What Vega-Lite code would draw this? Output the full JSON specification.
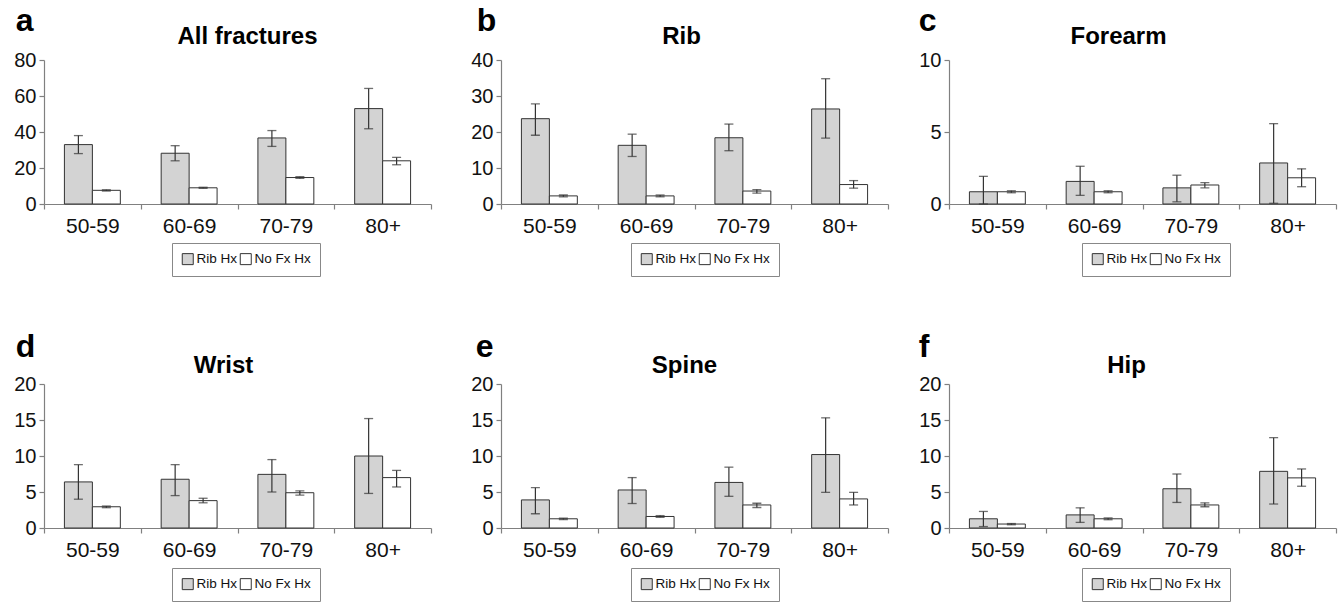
{
  "$schema": "https://vega.github.io/schema/vega-lite/v6.json",
  "padding": {"left": 13, "top": 5, "right": 5, "bottom": 0},
  "background": "white",
  "config": {
    "font": "Liberation Sans",
    "view": {"stroke": null},
    "axis": {"domainColor": "#808080", "tickColor": "#808080", "domainWidth": 1.2, "tickWidth": 1.2, "labelColor": "#111", "labelFontSize": 20, "tickSize": 5, "grid": false, "labelPadding": 3, "labelOverlap": false},
    "axisX": {"tickBand": "extent", "labelAngle": 0, "labelPadding": 6, "labelFontSize": 21},
    "title": {"color": "#000", "fontWeight": "bold"},
    "legend": {"labelFontSize": 13.5, "labelColor": "#111"}
  },
  "resolve": {"legend": {"fill": "independent"}, "scale": {"fill": "independent"}},
  "spacing": 54,
  "vconcat": [
    {
      "resolve": {"legend": {"fill": "independent"}, "scale": {"fill": "independent"}},
      "spacing": 38,
      "hconcat": [
        {
          "title": {"text": "a", "anchor": "start", "fontSize": 32, "offset": -13, "dx": 2},
          "resolve": {"legend": {"fill": "independent"}, "scale": {"fill": "independent"}},
          "vconcat": [{
            "title": {"text": "All fractures", "fontSize": 24, "frame": "group", "dx": 10, "offset": 1},
            "width": 387, "height": 144,
            "data": {"values": [
              {"age": "50-59", "group": "Rib Hx", "value": 33.0, "lo": 28.0, "hi": 38.0},
              {"age": "50-59", "group": "No Fx Hx", "value": 7.6, "lo": 7.2, "hi": 7.9},
              {"age": "60-69", "group": "Rib Hx", "value": 28.2, "lo": 24.0, "hi": 32.4},
              {"age": "60-69", "group": "No Fx Hx", "value": 9.0, "lo": 8.7, "hi": 9.3},
              {"age": "70-79", "group": "Rib Hx", "value": 36.7, "lo": 32.0, "hi": 40.8},
              {"age": "70-79", "group": "No Fx Hx", "value": 14.7, "lo": 14.2, "hi": 15.2},
              {"age": "80+", "group": "Rib Hx", "value": 53.0, "lo": 41.8, "hi": 64.2},
              {"age": "80+", "group": "No Fx Hx", "value": 24.0, "lo": 21.8, "hi": 25.9}
            ]},
            "encoding": {
              "x": {"field": "age", "type": "nominal", "sort": ["50-59", "60-69", "70-79", "80+"], "scale": {"paddingInner": 0, "paddingOuter": 0}, "axis": {"title": null}},
              "xOffset": {"field": "group", "type": "nominal", "sort": ["Rib Hx", "No Fx Hx"], "scale": {"paddingInner": 0, "paddingOuter": 0.73}}
            },
            "layer": [
              {"mark": {"type": "bar", "stroke": "#333", "strokeWidth": 1},
               "encoding": {
                 "y": {"field": "value", "type": "quantitative", "title": null, "scale": {"domain": [0, 80]}, "axis": {"values": [0, 20, 40, 60, 80]}},
                 "fill": {"field": "group", "type": "nominal", "scale": {"domain": ["Rib Hx", "No Fx Hx"], "range": ["#d3d3d3", "#ffffff"]},
                          "legend": {"title": null, "orient": "none", "legendX": 128, "legendY": 183, "direction": "horizontal", "symbolType": "square", "symbolSize": 121, "symbolStrokeColor": "#333", "symbolStrokeWidth": 1, "labelOffset": 2, "columnPadding": 0, "padding": 9, "strokeColor": "#888"}}
               }},
              {"mark": {"type": "rule", "color": "#333", "strokeWidth": 1.2},
               "encoding": {"y": {"field": "lo", "type": "quantitative", "title": null, "scale": {"domain": [0, 80]}, "axis": {"values": [0, 20, 40, 60, 80]}}, "y2": {"field": "hi"}}},
              {"mark": {"type": "tick", "color": "#333", "size": 9, "thickness": 1.3},
               "encoding": {"y": {"field": "lo", "type": "quantitative", "title": null, "scale": {"domain": [0, 80]}, "axis": {"values": [0, 20, 40, 60, 80]}}}},
              {"mark": {"type": "tick", "color": "#333", "size": 9, "thickness": 1.3},
               "encoding": {"y": {"field": "hi", "type": "quantitative", "title": null, "scale": {"domain": [0, 80]}, "axis": {"values": [0, 20, 40, 60, 80]}}}}
            ]
          }]
        },
        {
          "resolve": {"legend": {"fill": "independent"}, "scale": {"fill": "independent"}},
          "spacing": 29,
          "hconcat": [
            {
              "title": {"text": "b", "anchor": "start", "fontSize": 32, "offset": -13, "dx": 6},
              "resolve": {"legend": {"fill": "independent"}, "scale": {"fill": "independent"}},
              "vconcat": [{
                "title": {"text": "Rib", "fontSize": 24, "frame": "group", "dx": -13, "offset": 1},
                "width": 387, "height": 144,
                "data": {"values": [
                  {"age": "50-59", "group": "Rib Hx", "value": 23.7, "lo": 19.1, "hi": 27.8},
                  {"age": "50-59", "group": "No Fx Hx", "value": 2.25, "lo": 2.0, "hi": 2.5},
                  {"age": "60-69", "group": "Rib Hx", "value": 16.3, "lo": 13.2, "hi": 19.4},
                  {"age": "60-69", "group": "No Fx Hx", "value": 2.25, "lo": 2.0, "hi": 2.5},
                  {"age": "70-79", "group": "Rib Hx", "value": 18.4, "lo": 14.8, "hi": 22.2},
                  {"age": "70-79", "group": "No Fx Hx", "value": 3.6, "lo": 3.0, "hi": 4.0},
                  {"age": "80+", "group": "Rib Hx", "value": 26.4, "lo": 18.3, "hi": 34.8},
                  {"age": "80+", "group": "No Fx Hx", "value": 5.4, "lo": 4.4, "hi": 6.5}
                ]},
                "encoding": {
                  "x": {"field": "age", "type": "nominal", "sort": ["50-59", "60-69", "70-79", "80+"], "scale": {"paddingInner": 0, "paddingOuter": 0}, "axis": {"title": null}},
                  "xOffset": {"field": "group", "type": "nominal", "sort": ["Rib Hx", "No Fx Hx"], "scale": {"paddingInner": 0, "paddingOuter": 0.73}}
                },
                "layer": [
                  {"mark": {"type": "bar", "stroke": "#333", "strokeWidth": 1},
                   "encoding": {
                     "y": {"field": "value", "type": "quantitative", "title": null, "scale": {"domain": [0, 40]}, "axis": {"values": [0, 10, 20, 30, 40]}},
                     "fill": {"field": "group", "type": "nominal", "scale": {"domain": ["Rib Hx", "No Fx Hx"], "range": ["#d3d3d3", "#ffffff"]},
                              "legend": {"title": null, "orient": "none", "legendX": 130, "legendY": 183, "direction": "horizontal", "symbolType": "square", "symbolSize": 121, "symbolStrokeColor": "#333", "symbolStrokeWidth": 1, "labelOffset": 2, "columnPadding": 0, "padding": 9, "strokeColor": "#888"}}
                   }},
                  {"mark": {"type": "rule", "color": "#333", "strokeWidth": 1.2},
                   "encoding": {"y": {"field": "lo", "type": "quantitative", "title": null, "scale": {"domain": [0, 40]}, "axis": {"values": [0, 10, 20, 30, 40]}}, "y2": {"field": "hi"}}},
                  {"mark": {"type": "tick", "color": "#333", "size": 9, "thickness": 1.3},
                   "encoding": {"y": {"field": "lo", "type": "quantitative", "title": null, "scale": {"domain": [0, 40]}, "axis": {"values": [0, 10, 20, 30, 40]}}}},
                  {"mark": {"type": "tick", "color": "#333", "size": 9, "thickness": 1.3},
                   "encoding": {"y": {"field": "hi", "type": "quantitative", "title": null, "scale": {"domain": [0, 40]}, "axis": {"values": [0, 10, 20, 30, 40]}}}}
                ]
              }]
            },
            {
              "title": {"text": "c", "anchor": "start", "fontSize": 32, "offset": -13, "dx": 0},
              "resolve": {"legend": {"fill": "independent"}, "scale": {"fill": "independent"}},
              "vconcat": [{
                "title": {"text": "Forearm", "fontSize": 24, "frame": "group", "dx": -24, "offset": 1},
                "width": 387, "height": 144,
                "data": {"values": [
                  {"age": "50-59", "group": "Rib Hx", "value": 0.85, "lo": 0.0, "hi": 1.92},
                  {"age": "50-59", "group": "No Fx Hx", "value": 0.85, "lo": 0.78, "hi": 0.92},
                  {"age": "60-69", "group": "Rib Hx", "value": 1.57, "lo": 0.6, "hi": 2.62},
                  {"age": "60-69", "group": "No Fx Hx", "value": 0.85, "lo": 0.78, "hi": 0.92},
                  {"age": "70-79", "group": "Rib Hx", "value": 1.12, "lo": 0.15, "hi": 2.0},
                  {"age": "70-79", "group": "No Fx Hx", "value": 1.32, "lo": 1.12, "hi": 1.48},
                  {"age": "80+", "group": "Rib Hx", "value": 2.85, "lo": 0.05, "hi": 5.58},
                  {"age": "80+", "group": "No Fx Hx", "value": 1.82, "lo": 1.2, "hi": 2.44}
                ]},
                "encoding": {
                  "x": {"field": "age", "type": "nominal", "sort": ["50-59", "60-69", "70-79", "80+"], "scale": {"paddingInner": 0, "paddingOuter": 0}, "axis": {"title": null}},
                  "xOffset": {"field": "group", "type": "nominal", "sort": ["Rib Hx", "No Fx Hx"], "scale": {"paddingInner": 0, "paddingOuter": 0.73}}
                },
                "layer": [
                  {"mark": {"type": "bar", "stroke": "#333", "strokeWidth": 1},
                   "encoding": {
                     "y": {"field": "value", "type": "quantitative", "title": null, "scale": {"domain": [0, 10]}, "axis": {"values": [0, 5, 10]}},
                     "fill": {"field": "group", "type": "nominal", "scale": {"domain": ["Rib Hx", "No Fx Hx"], "range": ["#d3d3d3", "#ffffff"]},
                              "legend": {"title": null, "orient": "none", "legendX": 133, "legendY": 183, "direction": "horizontal", "symbolType": "square", "symbolSize": 121, "symbolStrokeColor": "#333", "symbolStrokeWidth": 1, "labelOffset": 2, "columnPadding": 0, "padding": 9, "strokeColor": "#888"}}
                   }},
                  {"mark": {"type": "rule", "color": "#333", "strokeWidth": 1.2},
                   "encoding": {"y": {"field": "lo", "type": "quantitative", "title": null, "scale": {"domain": [0, 10]}, "axis": {"values": [0, 5, 10]}}, "y2": {"field": "hi"}}},
                  {"mark": {"type": "tick", "color": "#333", "size": 9, "thickness": 1.3},
                   "encoding": {"y": {"field": "lo", "type": "quantitative", "title": null, "scale": {"domain": [0, 10]}, "axis": {"values": [0, 5, 10]}}}},
                  {"mark": {"type": "tick", "color": "#333", "size": 9, "thickness": 1.3},
                   "encoding": {"y": {"field": "hi", "type": "quantitative", "title": null, "scale": {"domain": [0, 10]}, "axis": {"values": [0, 5, 10]}}}}
                ]
              }]
            }
          ]
        }
      ]
    },
    {
      "resolve": {"legend": {"fill": "independent"}, "scale": {"fill": "independent"}},
      "spacing": 38,
      "hconcat": [
        {
          "title": {"text": "d", "anchor": "start", "fontSize": 32, "offset": -10, "dx": 2},
          "resolve": {"legend": {"fill": "independent"}, "scale": {"fill": "independent"}},
          "vconcat": [{
            "title": {"text": "Wrist", "fontSize": 24, "frame": "group", "dx": -14, "offset": -4},
            "width": 387, "height": 144,
            "data": {"values": [
              {"age": "50-59", "group": "Rib Hx", "value": 6.4, "lo": 4.0, "hi": 8.8},
              {"age": "50-59", "group": "No Fx Hx", "value": 2.95, "lo": 2.82, "hi": 3.05},
              {"age": "60-69", "group": "Rib Hx", "value": 6.77, "lo": 4.5, "hi": 8.8},
              {"age": "60-69", "group": "No Fx Hx", "value": 3.8, "lo": 3.5, "hi": 4.13},
              {"age": "70-79", "group": "Rib Hx", "value": 7.45, "lo": 5.0, "hi": 9.5},
              {"age": "70-79", "group": "No Fx Hx", "value": 4.9, "lo": 4.57, "hi": 5.17},
              {"age": "80+", "group": "Rib Hx", "value": 10.0, "lo": 4.8, "hi": 15.2},
              {"age": "80+", "group": "No Fx Hx", "value": 7.0, "lo": 5.7, "hi": 8.0}
            ]},
            "encoding": {
              "x": {"field": "age", "type": "nominal", "sort": ["50-59", "60-69", "70-79", "80+"], "scale": {"paddingInner": 0, "paddingOuter": 0}, "axis": {"title": null}},
              "xOffset": {"field": "group", "type": "nominal", "sort": ["Rib Hx", "No Fx Hx"], "scale": {"paddingInner": 0, "paddingOuter": 0.73}}
            },
            "layer": [
              {"mark": {"type": "bar", "stroke": "#333", "strokeWidth": 1},
               "encoding": {
                 "y": {"field": "value", "type": "quantitative", "title": null, "scale": {"domain": [0, 20]}, "axis": {"values": [0, 5, 10, 15, 20]}},
                 "fill": {"field": "group", "type": "nominal", "scale": {"domain": ["Rib Hx", "No Fx Hx"], "range": ["#d3d3d3", "#ffffff"]},
                          "legend": {"title": null, "orient": "none", "legendX": 128, "legendY": 184, "direction": "horizontal", "symbolType": "square", "symbolSize": 121, "symbolStrokeColor": "#333", "symbolStrokeWidth": 1, "labelOffset": 2, "columnPadding": 0, "padding": 9, "strokeColor": "#888"}}
               }},
              {"mark": {"type": "rule", "color": "#333", "strokeWidth": 1.2},
               "encoding": {"y": {"field": "lo", "type": "quantitative", "title": null, "scale": {"domain": [0, 20]}, "axis": {"values": [0, 5, 10, 15, 20]}}, "y2": {"field": "hi"}}},
              {"mark": {"type": "tick", "color": "#333", "size": 9, "thickness": 1.3},
               "encoding": {"y": {"field": "lo", "type": "quantitative", "title": null, "scale": {"domain": [0, 20]}, "axis": {"values": [0, 5, 10, 15, 20]}}}},
              {"mark": {"type": "tick", "color": "#333", "size": 9, "thickness": 1.3},
               "encoding": {"y": {"field": "hi", "type": "quantitative", "title": null, "scale": {"domain": [0, 20]}, "axis": {"values": [0, 5, 10, 15, 20]}}}}
            ]
          }]
        },
        {
          "resolve": {"legend": {"fill": "independent"}, "scale": {"fill": "independent"}},
          "spacing": 29,
          "hconcat": [
            {
              "title": {"text": "e", "anchor": "start", "fontSize": 32, "offset": -10, "dx": 5},
              "resolve": {"legend": {"fill": "independent"}, "scale": {"fill": "independent"}},
              "vconcat": [{
                "title": {"text": "Spine", "fontSize": 24, "frame": "group", "dx": -10, "offset": -4},
                "width": 387, "height": 144,
                "data": {"values": [
                  {"age": "50-59", "group": "Rib Hx", "value": 3.9, "lo": 1.98, "hi": 5.6},
                  {"age": "50-59", "group": "No Fx Hx", "value": 1.28, "lo": 1.18, "hi": 1.36},
                  {"age": "60-69", "group": "Rib Hx", "value": 5.28, "lo": 3.4, "hi": 7.0},
                  {"age": "60-69", "group": "No Fx Hx", "value": 1.6, "lo": 1.48, "hi": 1.72},
                  {"age": "70-79", "group": "Rib Hx", "value": 6.33, "lo": 4.4, "hi": 8.45},
                  {"age": "70-79", "group": "No Fx Hx", "value": 3.2, "lo": 2.85, "hi": 3.44},
                  {"age": "80+", "group": "Rib Hx", "value": 10.2, "lo": 4.95, "hi": 15.3},
                  {"age": "80+", "group": "No Fx Hx", "value": 4.04, "lo": 3.2, "hi": 4.95}
                ]},
                "encoding": {
                  "x": {"field": "age", "type": "nominal", "sort": ["50-59", "60-69", "70-79", "80+"], "scale": {"paddingInner": 0, "paddingOuter": 0}, "axis": {"title": null}},
                  "xOffset": {"field": "group", "type": "nominal", "sort": ["Rib Hx", "No Fx Hx"], "scale": {"paddingInner": 0, "paddingOuter": 0.73}}
                },
                "layer": [
                  {"mark": {"type": "bar", "stroke": "#333", "strokeWidth": 1},
                   "encoding": {
                     "y": {"field": "value", "type": "quantitative", "title": null, "scale": {"domain": [0, 20]}, "axis": {"values": [0, 5, 10, 15, 20]}},
                     "fill": {"field": "group", "type": "nominal", "scale": {"domain": ["Rib Hx", "No Fx Hx"], "range": ["#d3d3d3", "#ffffff"]},
                              "legend": {"title": null, "orient": "none", "legendX": 130, "legendY": 184, "direction": "horizontal", "symbolType": "square", "symbolSize": 121, "symbolStrokeColor": "#333", "symbolStrokeWidth": 1, "labelOffset": 2, "columnPadding": 0, "padding": 9, "strokeColor": "#888"}}
                   }},
                  {"mark": {"type": "rule", "color": "#333", "strokeWidth": 1.2},
                   "encoding": {"y": {"field": "lo", "type": "quantitative", "title": null, "scale": {"domain": [0, 20]}, "axis": {"values": [0, 5, 10, 15, 20]}}, "y2": {"field": "hi"}}},
                  {"mark": {"type": "tick", "color": "#333", "size": 9, "thickness": 1.3},
                   "encoding": {"y": {"field": "lo", "type": "quantitative", "title": null, "scale": {"domain": [0, 20]}, "axis": {"values": [0, 5, 10, 15, 20]}}}},
                  {"mark": {"type": "tick", "color": "#333", "size": 9, "thickness": 1.3},
                   "encoding": {"y": {"field": "hi", "type": "quantitative", "title": null, "scale": {"domain": [0, 20]}, "axis": {"values": [0, 5, 10, 15, 20]}}}}
                ]
              }]
            },
            {
              "title": {"text": "f", "anchor": "start", "fontSize": 32, "offset": -10, "dx": 0},
              "resolve": {"legend": {"fill": "independent"}, "scale": {"fill": "independent"}},
              "vconcat": [{
                "title": {"text": "Hip", "fontSize": 24, "frame": "group", "dx": -16, "offset": -4},
                "width": 387, "height": 144,
                "data": {"values": [
                  {"age": "50-59", "group": "Rib Hx", "value": 1.28, "lo": 0.2, "hi": 2.3},
                  {"age": "50-59", "group": "No Fx Hx", "value": 0.55, "lo": 0.45, "hi": 0.62},
                  {"age": "60-69", "group": "Rib Hx", "value": 1.82, "lo": 0.78, "hi": 2.8},
                  {"age": "60-69", "group": "No Fx Hx", "value": 1.28, "lo": 1.15, "hi": 1.4},
                  {"age": "70-79", "group": "Rib Hx", "value": 5.45, "lo": 3.55, "hi": 7.5},
                  {"age": "70-79", "group": "No Fx Hx", "value": 3.2, "lo": 2.95, "hi": 3.5},
                  {"age": "80+", "group": "Rib Hx", "value": 7.87, "lo": 3.33, "hi": 12.55},
                  {"age": "80+", "group": "No Fx Hx", "value": 6.96, "lo": 5.8, "hi": 8.2}
                ]},
                "encoding": {
                  "x": {"field": "age", "type": "nominal", "sort": ["50-59", "60-69", "70-79", "80+"], "scale": {"paddingInner": 0, "paddingOuter": 0}, "axis": {"title": null}},
                  "xOffset": {"field": "group", "type": "nominal", "sort": ["Rib Hx", "No Fx Hx"], "scale": {"paddingInner": 0, "paddingOuter": 0.73}}
                },
                "layer": [
                  {"mark": {"type": "bar", "stroke": "#333", "strokeWidth": 1},
                   "encoding": {
                     "y": {"field": "value", "type": "quantitative", "title": null, "scale": {"domain": [0, 20]}, "axis": {"values": [0, 5, 10, 15, 20]}},
                     "fill": {"field": "group", "type": "nominal", "scale": {"domain": ["Rib Hx", "No Fx Hx"], "range": ["#d3d3d3", "#ffffff"]},
                              "legend": {"title": null, "orient": "none", "legendX": 133, "legendY": 184, "direction": "horizontal", "symbolType": "square", "symbolSize": 121, "symbolStrokeColor": "#333", "symbolStrokeWidth": 1, "labelOffset": 2, "columnPadding": 0, "padding": 9, "strokeColor": "#888"}}
                   }},
                  {"mark": {"type": "rule", "color": "#333", "strokeWidth": 1.2},
                   "encoding": {"y": {"field": "lo", "type": "quantitative", "title": null, "scale": {"domain": [0, 20]}, "axis": {"values": [0, 5, 10, 15, 20]}}, "y2": {"field": "hi"}}},
                  {"mark": {"type": "tick", "color": "#333", "size": 9, "thickness": 1.3},
                   "encoding": {"y": {"field": "lo", "type": "quantitative", "title": null, "scale": {"domain": [0, 20]}, "axis": {"values": [0, 5, 10, 15, 20]}}}},
                  {"mark": {"type": "tick", "color": "#333", "size": 9, "thickness": 1.3},
                   "encoding": {"y": {"field": "hi", "type": "quantitative", "title": null, "scale": {"domain": [0, 20]}, "axis": {"values": [0, 5, 10, 15, 20]}}}}
                ]
              }]
            }
          ]
        }
      ]
    }
  ]
}
